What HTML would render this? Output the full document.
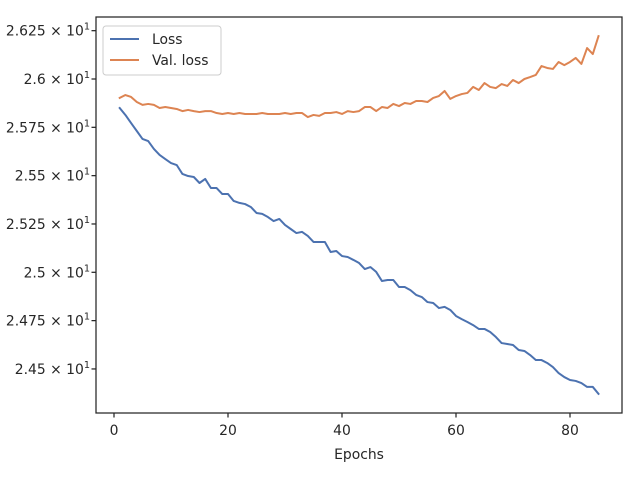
<!DOCTYPE html>
<html><head><meta charset="utf-8"><style>
html,body{margin:0;padding:0;background:#fff;}
svg{display:block;font-family:"DejaVu Sans","Liberation Sans",sans-serif;}
</style></head><body>
<svg id="chart" width="640" height="480" viewBox="0 0 640 480" xmlns="http://www.w3.org/2000/svg">
<rect x="0" y="0" width="640" height="480" fill="#fff"/>
<g id="plot"></g>
<g id="axes"></g>
<g>
<rect x="103" y="26" width="118" height="49" rx="3" fill="#fff" fill-opacity="0.8" stroke="#ccc" stroke-width="1"/>
<line x1="110" y1="39" x2="139" y2="39" stroke="#4c72b0" stroke-width="2"/>
<text x="152" y="44" font-size="13.9" fill="#262626">Loss</text>
<line x1="110" y1="60" x2="139" y2="60" stroke="#dd8452" stroke-width="2"/>
<text x="152" y="65" font-size="13.9" fill="#262626">Val. loss</text>
</g>
<text x="359" y="459" font-size="13.9" fill="#262626" text-anchor="middle">Epochs</text>
</svg>
<script>
const lossValues=[25.850,25.814,25.772,25.731,25.690,25.679,25.638,25.607,25.586,25.565,25.555,25.509,25.498,25.493,25.462,25.483,25.436,25.436,25.405,25.405,25.369,25.359,25.353,25.338,25.307,25.302,25.286,25.265,25.276,25.245,25.224,25.203,25.209,25.188,25.157,25.157,25.157,25.105,25.110,25.084,25.079,25.064,25.048,25.017,25.027,25.002,24.955,24.960,24.960,24.924,24.924,24.908,24.883,24.872,24.846,24.841,24.815,24.821,24.805,24.774,24.758,24.743,24.727,24.707,24.707,24.691,24.665,24.634,24.629,24.624,24.598,24.593,24.572,24.546,24.546,24.531,24.510,24.479,24.458,24.443,24.438,24.427,24.407,24.407,24.371];
const valLossValues=[25.902,25.917,25.907,25.881,25.866,25.871,25.866,25.850,25.855,25.850,25.845,25.834,25.840,25.834,25.829,25.834,25.834,25.824,25.819,25.824,25.819,25.824,25.819,25.819,25.819,25.824,25.819,25.819,25.819,25.824,25.819,25.824,25.824,25.803,25.814,25.809,25.824,25.824,25.829,25.819,25.834,25.829,25.834,25.855,25.855,25.834,25.855,25.850,25.871,25.860,25.876,25.871,25.886,25.886,25.881,25.902,25.912,25.938,25.897,25.912,25.922,25.928,25.959,25.943,25.979,25.959,25.953,25.974,25.964,25.995,25.979,26.000,26.010,26.021,26.067,26.057,26.052,26.088,26.072,26.088,26.109,26.078,26.160,26.129,26.222];
const xTicks=[0,20,40,60,80];
const yTicks=[24.5,24.75,25,25.25,25.5,25.75,26,26.25];
const yTickLabels=["2.45","2.475","2.5","2.525","2.55","2.575","2.6","2.625"];

const NS="http://www.w3.org/2000/svg";
const L=96,R=622,T=17,B=413;
function xs(v){return 114+v*5.7;}
function ys(v){return 79+(26-v)*193.3;}
function mk(tag,attrs,parent){const e=document.createElementNS(NS,tag);for(const k in attrs)e.setAttribute(k,attrs[k]);parent.appendChild(e);return e;}
const plot=document.getElementById('plot'),axes=document.getElementById('axes');
function line(vals,color,name){
  const pts=vals.map((v,i)=>xs(i+1).toFixed(2)+','+ys(v).toFixed(2)).join(' ');
  const p=mk('polyline',{points:pts,fill:'none',stroke:color,'stroke-width':2,'stroke-linejoin':'round','stroke-linecap':'square'},plot);
  
  
}
line(lossValues,'#4c72b0','loss-line');
line(valLossValues,'#dd8452','val-loss-line');
const frame=mk('rect',{x:L,y:T,width:R-L,height:B-T,fill:'none',stroke:'#262626','stroke-width':1.25},axes);


xTicks.forEach(t=>{
  const x=xs(t);
  const tk=mk('line',{x1:x,y1:B,x2:x,y2:B+4.5,stroke:'#262626','stroke-width':1.25},axes);
  
  
  const tx=mk('text',{x:x,y:B+22,'font-size':13.9,fill:'#262626','text-anchor':'middle'},axes);
  tx.textContent=String(t);
  
  
});
yTicks.forEach((t,i)=>{
  const y=ys(t);
  const tk=mk('line',{x1:L-4.5,y1:y,x2:L,y2:y,stroke:'#262626','stroke-width':1.25},axes);
  
  
  const tx=mk('text',{x:90,y:y+5,'font-size':13.9,fill:'#262626','text-anchor':'end'},axes);
  const a=document.createElementNS(NS,'tspan');a.textContent=yTickLabels[i]+' \u00d7 10';tx.appendChild(a);
  const s=document.createElementNS(NS,'tspan');s.setAttribute('dy','-6');s.setAttribute('font-size','9.7');s.textContent='1';tx.appendChild(s);
  
  
});
</script>
</body></html>
